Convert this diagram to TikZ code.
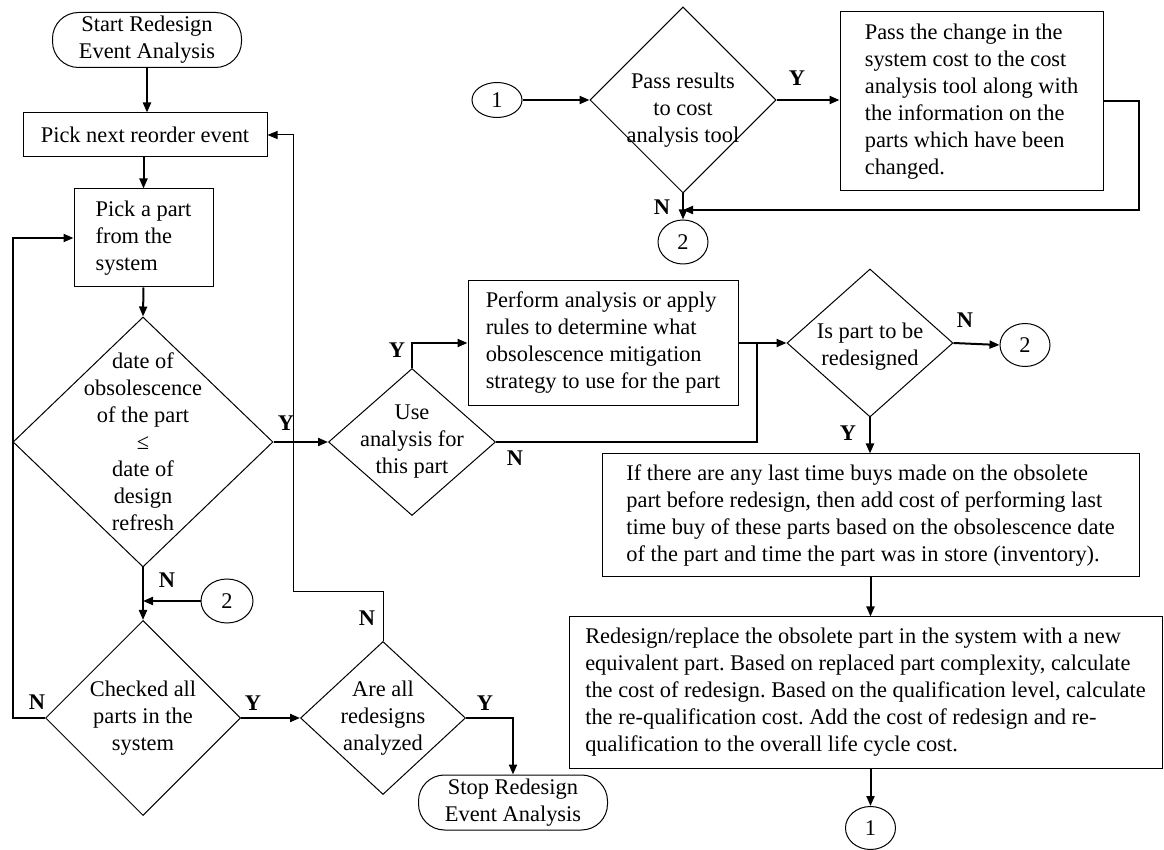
\documentclass[tikz,border=0pt]{standalone}
\usepackage{fontspec}
\setmainfont{Liberation Serif}
\usetikzlibrary{arrows.meta, shapes.geometric, positioning}

\newcommand\flowfont{\fontsize{11.2}{13.5}\selectfont\frenchspacing}

\begin{document}
\begin{tikzpicture}[x=0.5pt, y=-0.5pt, >={Triangle[length=5pt, width=4pt]}, line width=1pt,
    every node/.style={font=\flowfont},
    every label/.style={align=center},
    term/.style={draw, line width=0.5pt, rounded corners=13pt, minimum width=94.5pt,
                 minimum height=27.5pt, inner sep=0pt, align=center},
    box/.style 2 args={draw, line width=0.5pt, align=left, minimum width=#1,
                       minimum height=#2, inner xsep=3pt, inner ysep=0pt},
    decision/.style 2 args={diamond, draw, line width=0.5pt, inner sep=0pt,
                            minimum width=#1, minimum height=#2},
    conn/.style 2 args={ellipse, draw, line width=0.5pt, inner sep=0pt,
                        minimum width=#1, minimum height=#2},
    yn/.style={font=\flowfont\bfseries, inner sep=0pt}]
  \useasboundingbox (0,0) rectangle (1164,850);

  % left column
  \node[term]                     (start)    at (147,40)    {Start Redesign\\Event Analysis};
  \node[box={122pt}{22pt}]        (reorder)  at (145,135)   {Pick next reorder event};
  \node[box={69.5pt}{49pt}]       (pickpart) at (143.5,238) {Pick a part\\from the\\system};
  \node[decision={130pt}{125pt},
        label={center:{date of\\obsolescence\\of the part\\≤\\date of\\design\\refresh}}]
                                  (obsdate)  at (143,442)   {};
  \node[decision={97.5pt}{97.5pt},
        label={center:{Checked all\\parts in the\\system}}]
                                  (chkall)   at (143,718)   {};
  \node[conn={26pt}{22pt}]        (c2left)   at (227,601)   {2};
  \node[decision={82.5pt}{76.5pt},
        label={center:{Are all\\redesigns\\analyzed}}]
                                  (allred)   at (383,718)   {};
  \node[term]                     (stop)     at (513,802.5) {Stop Redesign\\Event Analysis};

  % middle row
  \node[decision={83.5pt}{73.5pt},
        label={center:{Use\\analysis for\\this part}}]
                                  (useana)   at (412,442)   {};
  \node[box={135pt}{62.5pt}]      (perform)  at (603,343)
        {Perform analysis or apply\\rules to determine what\\obsolescence mitigation\\strategy to use for the part};
  \node[decision={83pt}{74pt},
        label={[yshift=-2pt]center:{Is part to be\\redesigned}}]
                                  (ispart)   at (870,343)   {};
  \node[conn={25pt}{21.5pt}]      (c2right)  at (1025,345)  {2};
  \node[box={268.5pt}{61.5pt}]    (ifbox)    at (870.5,515.5)
        {If there are any last time buys made on the obsolete\\part before redesign, then add cost of performing last\\time buy of these parts based on the obsolescence date\\of the part and time the part was in store (inventory).};
  \node[box={296.5pt}{75.5pt}]    (redes)    at (865.5,692.5)
        {Redesign/replace the obsolete part in the system with a new\\equivalent part. Based on replaced part complexity, calculate\\the cost of redesign. Based on the qualification level, calculate\\the re-qualification cost. Add the cost of redesign and re-\\qualification to the overall life cycle cost.};
  \node[conn={25pt}{21.5pt}]      (c1bot)    at (870.5,828) {1};

  % top row
  \node[conn={25pt}{17.5pt}]      (c1top)    at (497,100)   {1};
  \node[decision={93pt}{93pt},
        label={[yshift=-5pt]center:{Pass results\\to cost\\analysis tool}}]
                                  (pass)     at (683,100)   {};
  \node[box={131.5pt}{89.5pt}]    (passbox)  at (971.5,101.5)
        {Pass the change in the\\system cost to the cost\\analysis tool along with\\the information on the\\parts which have been\\changed.};
  \node[conn={25pt}{22pt}]        (c2top)    at (683,242)   {2};

  \coordinate (fb)  at (293,592);
  \coordinate (mrg) at (757,343);
  \coordinate (pj)  at (683,210);

  % branch labels
  \node[yn] (y1) at (286,423) {Y};
  \node[yn] (n1) at (167,580) {N};
  \node[yn] (n2) at (37,702)  {N};
  \node[yn] (y2) at (253,703) {Y};
  \node[yn] (n3) at (367,618) {N};
  \node[yn] (y3) at (485,703) {Y};
  \node[yn] (y4) at (397,350) {Y};
  \node[yn] (n4) at (515,458) {N};
  \node[yn] (n5) at (965,320) {N};
  \node[yn] (y5) at (848,433) {Y};
  \node[yn] (y6) at (797,78)  {Y};
  \node[yn] (n6) at (662,207) {N};

  % connectors
  \draw[->] (start.south) -- (start.south |- reorder.north);
  \draw[->] (pickpart.north |- reorder.south) -- (pickpart.north);
  \draw[->] (pickpart.south) -- (obsdate.north);
  \draw[->] (obsdate.east) -- (useana.west);
  \draw[->] (obsdate.south) -- (chkall.north);
  \draw[->] (c2left.west) -- (c2left.west -| chkall.north);
  \draw[->] (chkall.west) -- (chkall.west -| obsdate.west) |- (pickpart.west);
  \draw[->] (chkall.east) -- (allred.west);
  \draw[->, line width=0.5pt] (allred.north) |- (fb) |- (reorder.east);
  \draw[->] (allred.east) -| (stop.north);
  \draw[->] (useana.north) |- (perform.west);
  \draw     (useana.east) -| (mrg);
  \draw[->] (perform.east) -- (ispart.west);
  \draw[->] (ispart.east) -- (c2right.west);
  \draw[->] (ispart.south) -- (ispart.south |- ifbox.north);
  \draw[->] (ifbox.south) -- (ifbox.south |- redes.north);
  \draw[->] (ifbox.south |- redes.south) -- (c1bot.north);
  \draw[->] (c1top.east) -- (pass.west);
  \draw[->] (pass.east) -- (pass.east -| passbox.west);
  \draw[->] (pass.south) -- (c2top.north);
  \draw[->] (passbox.east) -- ++(35,0) |- (pj);
\end{tikzpicture}
\end{document}
